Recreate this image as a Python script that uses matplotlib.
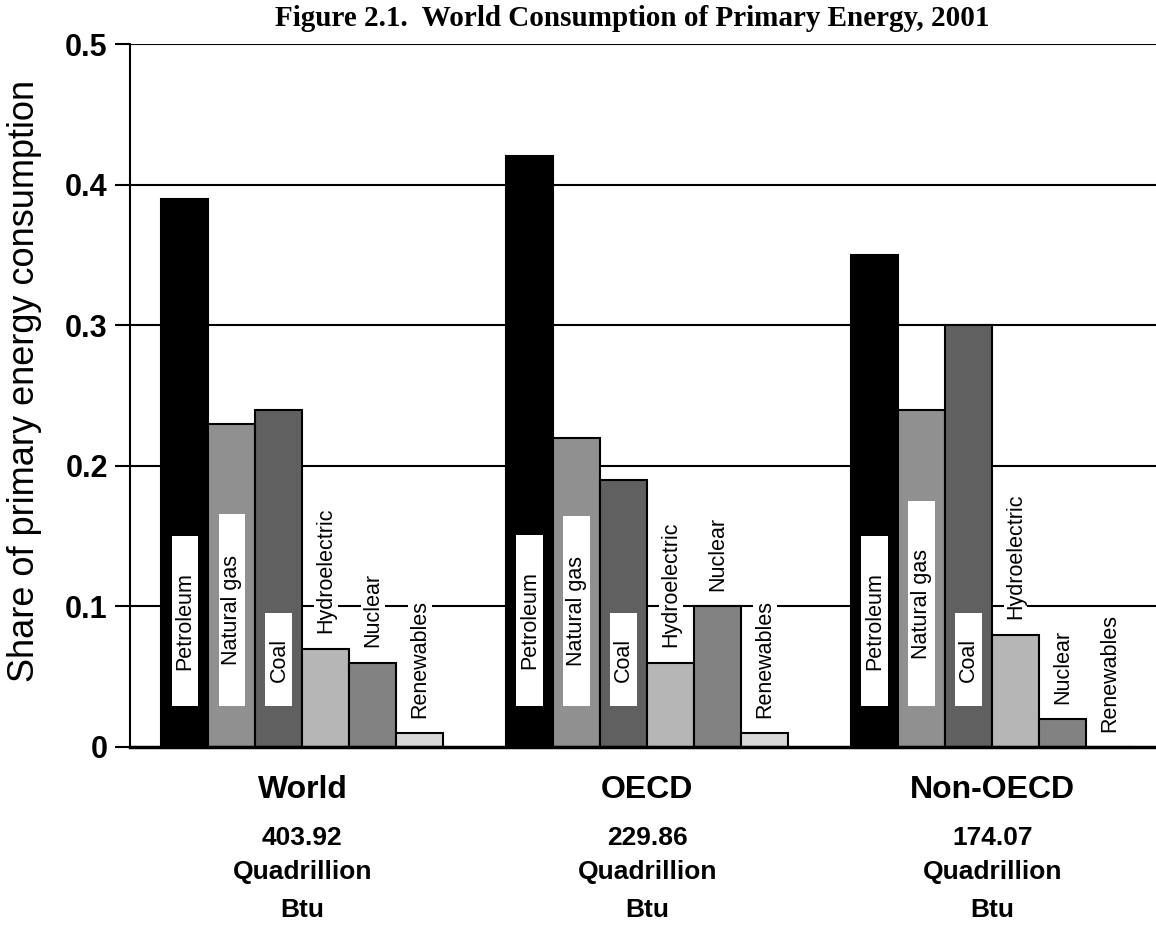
import numpy as np
import matplotlib
matplotlib.use("Agg")
import matplotlib.pyplot as plt
from matplotlib.patches import Rectangle
import matplotlib.transforms as mtransforms

plt.rcParams['font.family'] = ['Liberation Sans', 'DejaVu Sans']

# data
regions = ["World", "OECD", "Non-OECD"]
totals = ["403.92", "229.86", "174.07"]
fuels = ["Petroleum", "Natural gas", "Coal", "Hydroelectric", "Nuclear", "Renewables"]
world = [0.39, 0.23, 0.24, 0.07, 0.06, 0.01]
oecd = [0.42, 0.22, 0.19, 0.06, 0.10, 0.01]
non_oecd = [0.35, 0.24, 0.30, 0.08, 0.02, 0.00]
shares = [world, oecd, non_oecd]
colors = ["#000000", "#909090", "#606060", "#b6b6b6", "#828282", "#d8d8d8"]

# white label boxes inside the first three bars (bottom, top) per group
box_bottom = 0.029
box_tops = [[0.150, 0.166, 0.095],
            [0.151, 0.164, 0.095],
            [0.150, 0.175, 0.095]]

fig = plt.figure(figsize=(11.56, 9.27), dpi=100)
ax = fig.add_axes([130 / 1156, (927 - 747) / 927, 1 - 130 / 1156, 703 / 927])

w = 47 / 345
x = np.arange(len(regions))

for g in range(len(regions)):
    for i in range(len(fuels)):
        xc = x[g] + (i - 2.5) * w
        ax.bar(xc, shares[g][i], width=w, color=colors[i], edgecolor="black",
               linewidth=1.5, zorder=2)
        if i < 3:
            bw = 0.078
            ax.add_patch(Rectangle((xc - bw / 2, box_bottom), bw,
                                   box_tops[g][i] - box_bottom,
                                   facecolor="white", edgecolor="none", zorder=3))
            ax.text(xc, (box_bottom + box_tops[g][i]) / 2, fuels[i], rotation=90,
                    ha="center", va="center", fontsize=15.5, zorder=4)
        else:
            ax.annotate(fuels[i], (xc, shares[g][i]), xytext=(0, 11),
                        textcoords="offset points", rotation=90,
                        ha="center", va="bottom", fontsize=15.5, zorder=4,
                        bbox=dict(facecolor="white", edgecolor="none", pad=1))

ax.set_xlim(-0.5, 2.475)
ax.set_ylim(0, 0.5)
ax.set_yticks([0, 0.1, 0.2, 0.3, 0.4, 0.5])
ax.set_yticklabels(["0", "0.1", "0.2", "0.3", "0.4", "0.5"],
                   fontsize=22, fontweight="bold")
ax.tick_params(axis="y", length=11, width=1.5, pad=5)
ax.set_xticks([])
for yv in [0.1, 0.2, 0.3, 0.4, 0.5]:
    ax.axhline(yv, color="black", linewidth=1.5, zorder=1)

ax.spines["top"].set_visible(False)
ax.spines["right"].set_visible(False)
ax.spines["left"].set_linewidth(1.5)
ax.spines["bottom"].set_linewidth(2.5)

fig.text(25 / 1156, 1 - 381 / 927, "Share of primary energy consumption",
         rotation=90, ha="center", va="center", fontsize=26)

trans = mtransforms.blended_transform_factory(ax.transData, fig.transFigure)
for g in range(len(regions)):
    ax.text(x[g], 1 - 790 / 927, regions[g], transform=trans, ha="center",
            va="center", fontsize=23, fontweight="bold")
    ax.text(x[g], 1 - 838 / 927, totals[g], transform=trans, ha="center",
            va="center", fontsize=19, fontweight="bold")
    ax.text(x[g], 1 - 872 / 927, "Quadrillion", transform=trans, ha="center",
            va="center", fontsize=19, fontweight="bold")
    ax.text(x[g], 1 - 910 / 927, "Btu", transform=trans, ha="center",
            va="center", fontsize=19, fontweight="bold")

fig.text(632 / 1156, 1 - 19 / 927, "Figure 2.1.  World Consumption of Primary Energy, 2001",
         ha="center", va="center", fontsize=21, fontweight="bold",
         family="Liberation Serif")

fig.savefig("out.png", dpi=100)
